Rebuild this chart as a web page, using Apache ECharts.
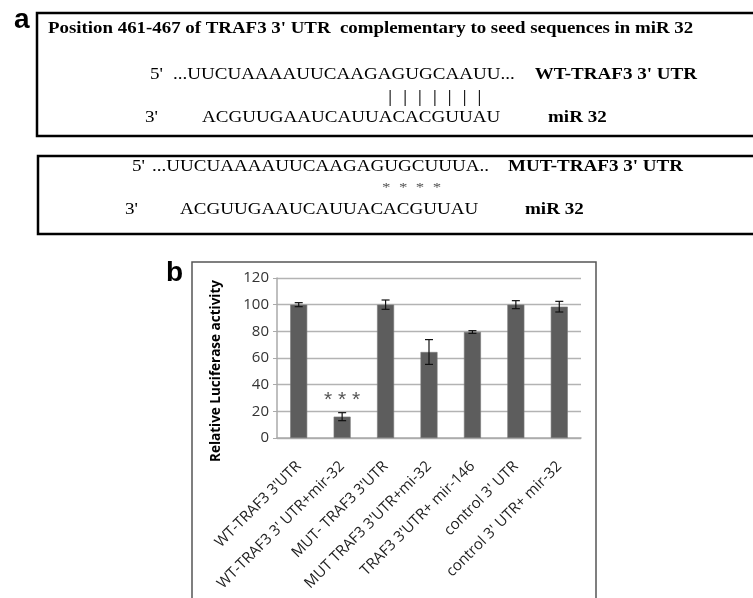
<!DOCTYPE html>
<html>
<head>
<meta charset="utf-8">
<script src="https://cdn.jsdelivr.net/npm/echarts@6/dist/echarts.min.js"></script>
<style>
  html, body { margin: 0; padding: 0; background: #fff; }
  #chart { width: 753px; height: 598px; }
</style>
</head>
<body>
<div id="chart"></div>
<script>
// data
const categories = [
  'WT-TRAF3 3\'UTR',
  'WT-TRAF3 3\' UTR+mir-32',
  'MUT- TRAF3 3\'UTR',
  'MUT TRAF3 3\'UTR+mi-32',
  'TRAF3 3\'UTR+ mir-146',
  'control 3\' UTR',
  'control 3\' UTR+ mir-32'
];
const activity = [100, 16, 100, 64.5, 79.5, 100, 98.5];
const errors = [1.5, 3, 3.5, 9.3, 1, 3, 4];
const marks = ['', '* * *', '', '', '', '', ''];
const yTicks = { min: 0, max: 120, interval: 20 };

const serif = '"Liberation Serif", "Times New Roman", serif';
const SX = 1.12; // the scanned figure is a little wide

function txt(x, y, text, opt) {
  opt = opt || {};
  const bold = opt.bold ? 'bold ' : '';
  return {
    type: 'text', x: x, y: y, scaleX: opt.sx || SX,
    style: {
      text: text,
      font: bold + (opt.size || 17) + 'px ' + (opt.family || serif),
      fill: opt.color || '#000',
      textAlign: opt.align || 'left', align: opt.align || 'left',
      textVerticalAlign: 'middle', verticalAlign: 'middle'
    }
  };
}

const panelA = [
  { type: 'rect', shape: { x: 37, y: 13, width: 740, height: 123 },
    style: { fill: 'none', stroke: '#000', lineWidth: 2.5 } },
  { type: 'rect', shape: { x: 38, y: 156, width: 740, height: 78 },
    style: { fill: 'none', stroke: '#000', lineWidth: 2.5 } },
  txt(14, 20, 'a', { bold: true, size: 28, family: '"Liberation Sans", Arial', sx: 1 }),
  txt(48, 29, 'Position 461-467 of TRAF3 3\' UTR  complementary to seed sequences in miR 32', { bold: true, sx: 1.11 }),
  txt(150, 75, '5\''),
  txt(173, 75, '...UUCUAAAAUUCAAGAGUGCAAUU...'),
  txt(697, 75, 'WT-TRAF3 3\' UTR', { bold: true, align: 'right' }),
  txt(388, 98, '|  |  |  |  |  |  |', { sx: 1.25 }),
  txt(145, 118, '3\''),
  txt(202, 118, 'ACGUUGAAUCAUUACACGUUAU'),
  txt(548, 118, 'miR 32', { bold: true }),
  txt(132, 167, '5\''),
  txt(152, 167, '...UUCUAAAAUUCAAGAGUGCUUUA..'),
  txt(683, 167, 'MUT-TRAF3 3\' UTR', { bold: true, align: 'right' }),
  txt(382, 188, '*  *  *  *', { size: 13, color: '#555', sx: 1.3 }),
  txt(125, 210, '3\''),
  txt(180, 210, 'ACGUUGAAUCAUUACACGUUAU'),
  txt(525, 210, 'miR 32', { bold: true })
];

const panelB = [
  { type: 'rect', shape: { x: 192, y: 262, width: 404, height: 360 },
    style: { fill: 'none', stroke: '#555', lineWidth: 1.5 } },
  txt(166, 273, 'b', { bold: true, size: 28, family: '"Liberation Sans", Arial', sx: 1 }),
  {
    type: 'text', x: 216, y: 371, rotation: Math.PI / 2,
    style: {
      text: 'Relative Luciferase activity',
      font: 'bold 13.5px "Open Sans", sans-serif', fill: '#000',
      textAlign: 'center', align: 'center',
      textVerticalAlign: 'middle', verticalAlign: 'middle'
    }
  }
];

const chart = echarts.init(document.getElementById('chart'));
chart.setOption({
  backgroundColor: '#fff',
  animation: false,
  graphic: { elements: panelA.concat(panelB) },
  grid: { left: 277, top: 278, width: 304, height: 160 },
  xAxis: {
    type: 'category',
    data: categories,
    axisLine: { lineStyle: { color: '#aaa', width: 1.5 } },
    axisTick: { show: false },
    axisLabel: {
      interval: 0, rotate: 45, margin: 26,
      fontSize: 15, fontFamily: 'Open Sans', color: '#222'
    }
  },
  yAxis: {
    type: 'value',
    min: yTicks.min, max: yTicks.max, interval: yTicks.interval,
    axisLine: { show: true, lineStyle: { color: '#aaa', width: 1.5 } },
    axisTick: { show: true, length: 4, lineStyle: { color: '#aaa' } },
    axisLabel: { fontSize: 15, fontFamily: 'Open Sans', color: '#333', margin: 8 },
    splitLine: { lineStyle: { color: '#b3b3b3', width: 1.3 } }
  },
  series: [
    {
      type: 'bar',
      barWidth: 17,
      itemStyle: { color: '#5d5d5d', borderColor: '#7a7a7a', borderWidth: 0.6 },
      data: activity.map((v, i) => ({
        value: v,
        label: {
          show: marks[i] !== '',
          formatter: marks[i],
          position: 'top',
          distance: 6,
          fontSize: 21,
          fontFamily: 'Liberation Sans',
          color: '#555'
        }
      }))
    },
    {
      type: 'custom',
      data: activity.map((v, i) => [i, v, errors[i]]),
      z: 10,
      renderItem: function (params, api) {
        const i = api.value(0), v = api.value(1), e = api.value(2);
        const hi = api.coord([i, v + e]);
        const lo = api.coord([i, v - e]);
        const cap = 4;
        const st = { stroke: '#111', lineWidth: 1.2 };
        return {
          type: 'group',
          children: [
            { type: 'line', shape: { x1: hi[0], y1: hi[1], x2: lo[0], y2: lo[1] }, style: st },
            { type: 'line', shape: { x1: hi[0] - cap, y1: hi[1], x2: hi[0] + cap, y2: hi[1] }, style: st },
            { type: 'line', shape: { x1: lo[0] - cap, y1: lo[1], x2: lo[0] + cap, y2: lo[1] }, style: st }
          ]
        };
      }
    }
  ]
});
</script>
</body>
</html>
